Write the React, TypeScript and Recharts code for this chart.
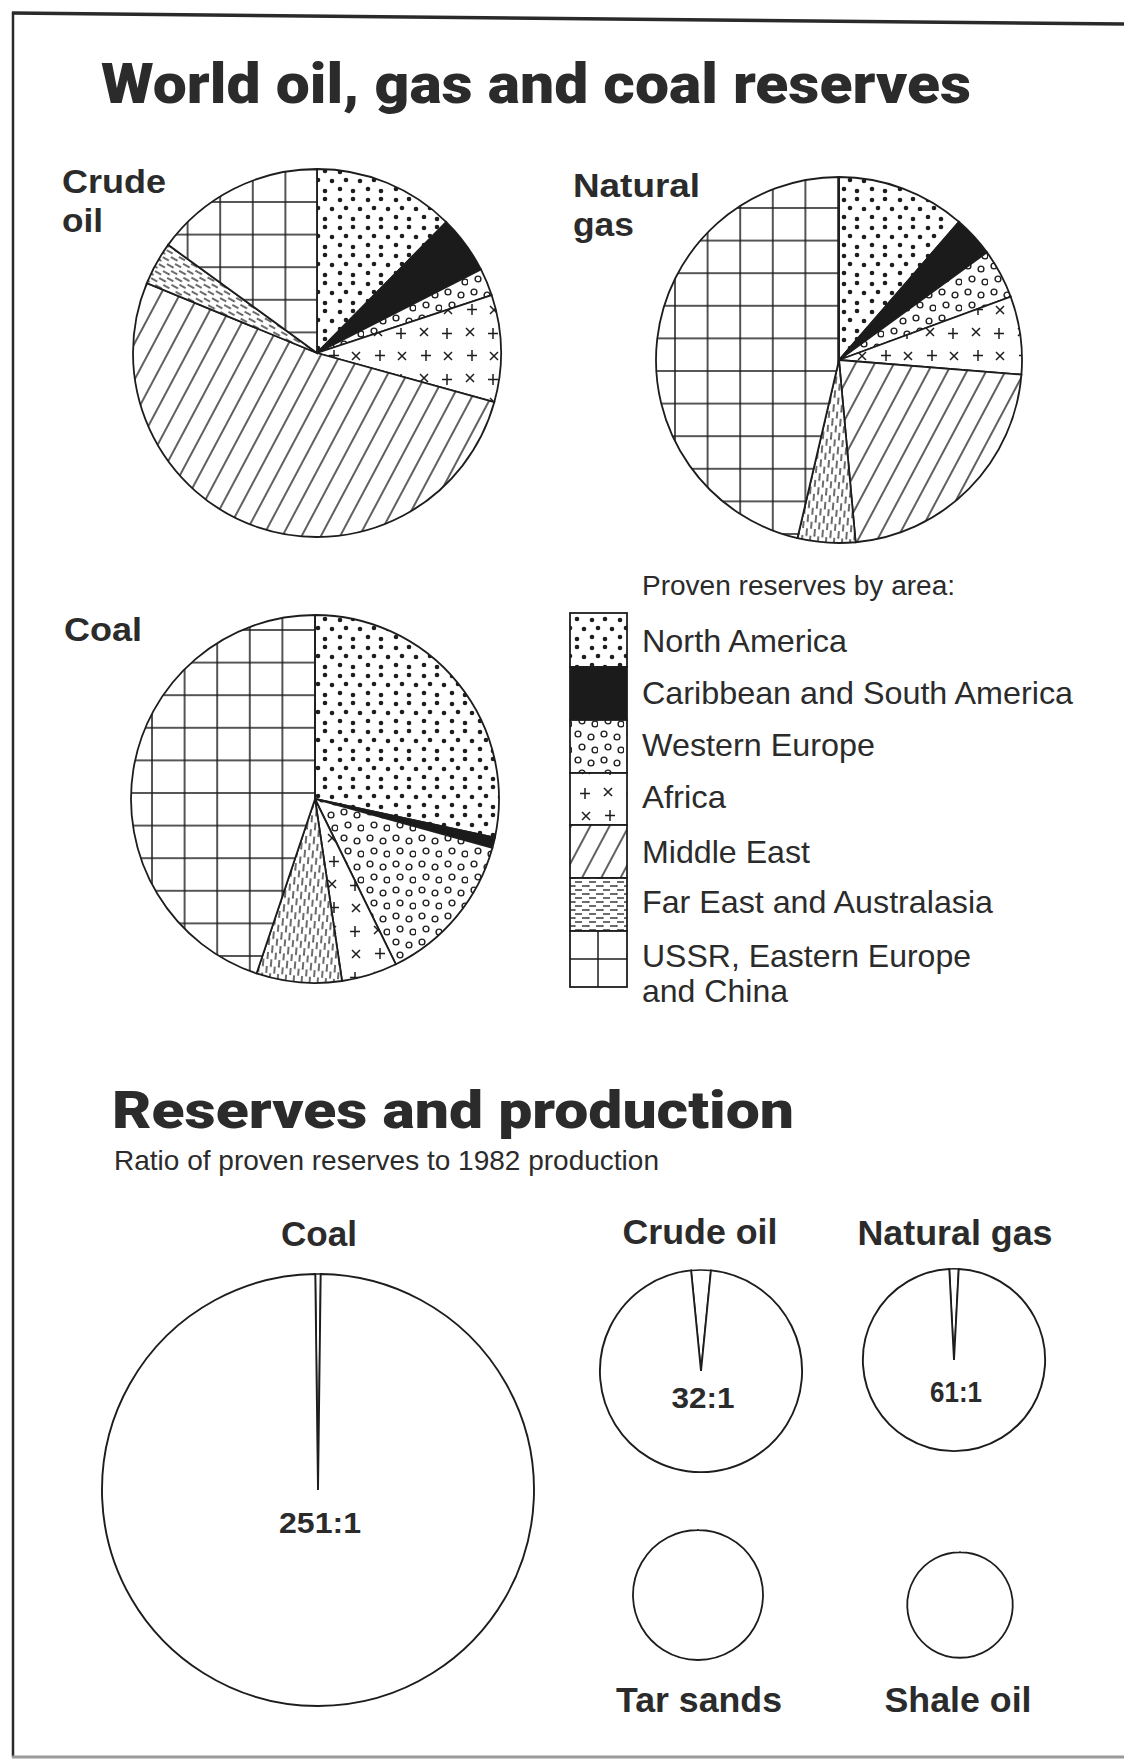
import React from 'react';
import { PieChart, Pie, Cell } from 'recharts';

// ---------- DATA ----------
const regions = [
  'North America',
  'Caribbean and South America',
  'Western Europe',
  'Africa',
  'Middle East',
  'Far East and Australasia',
  'USSR, Eastern Europe and China',
];
// share of world proven reserves, %
const crudeOilShares = [12.4, 5.1, 2.4, 9.4, 51.9, 3.8, 15.0];
const naturalGasShares = [11.4, 3.6, 4.4, 6.9, 22.3, 5.1, 46.4];
const coalShares = [28.4, 0.9, 13.5, 4.9, 0, 7.5, 44.9];

const legendLabelLines = [
  ['North America'],
  ['Caribbean and South America'],
  ['Western Europe'],
  ['Africa'],
  ['Middle East'],
  ['Far East and Australasia'],
  ['USSR, Eastern Europe', 'and China'],
];

// reserves : 1982 production
const ratioFuels = ['Coal', 'Crude oil', 'Natural gas'];
const ratioValues = [251, 32, 61];
const ratioLabels = ['251:1', '32:1', '61:1'];
const otherFuels = ['Tar sands', 'Shale oil'];
// relative size of reserves (circle area), coal = 100
const reserveFuels = ['Coal', 'Crude oil', 'Natural gas', 'Tar sands', 'Shale oil'];
const relativeReserves = [100, 21.9, 17.8, 9.1, 6.0];

// ---------- STYLE ----------
const INK = '#1d1d1d';
const TEXT = '#2b2b2b';
const HEAVY = "Roboto, 'Liberation Sans', Arial, sans-serif";
const SANS = "'Liberation Sans', Arial, Helvetica, sans-serif";
const NARROW = "'Liberation Sans Narrow', 'Liberation Sans', Arial, sans-serif";

const rowsOf = (shares: number[]) => regions.map((name, i) => ({ name, value: shares[i] }));

const topPies = [
  { title: 'Crude oil', shares: crudeOilShares, cx: 317, cy: 353, r: 184, fe: 'pFEcrude', grid: 'pGridCrude' },
  { title: 'Natural gas', shares: naturalGasShares, cx: 839, cy: 360, r: 183, fe: 'pFEv', grid: 'pGridGas' },
  { title: 'Coal', shares: coalShares, cx: 315, cy: 799, r: 184, fe: 'pFEv', grid: 'pGridCoal' },
];

const fillsFor = (fe: string, grid: string) => [
  'url(#pNA)',
  '#1b1b1b',
  'url(#pWE)',
  'url(#pAF)',
  'url(#pME)',
  `url(#${fe})`,
  `url(#${grid})`,
];

const BIG_R = 216;
const radiusOf = (fuel: string) => {
  const v = relativeReserves[reserveFuels.indexOf(fuel)];
  return BIG_R * Math.sqrt(v / relativeReserves[0]);
};

const ratioPos = [
  { cx: 318, cy: 1490, titleX: 319, titleY: 1246, labelY: 1533, labelW: 82, titleW: 76 },
  { cx: 701, cy: 1371, titleX: 700, titleY: 1244, labelY: 1408, labelW: 63, titleW: 155 },
  { cx: 954, cy: 1360, titleX: 955, titleY: 1245, labelY: 1402, labelW: 52, titleW: 195 },
];
const otherPos = [
  { cx: 698, cy: 1595, titleX: 699, titleY: 1712, titleW: 166 },
  { cx: 960, cy: 1605, titleX: 958, titleY: 1712, titleW: 147 },
];

const legendTops = [613, 667, 720, 773, 825, 878, 931, 987];
const legendBaselines = [[652], [704], [756], [808], [863], [913], [967, 1002]];
const legendWidths = [[205], [431], [233], [84], [168], [351], [329, 146]];

type TProps = {
  x: number; y: number; w?: number; size: number; weight?: number | string;
  family?: string; anchor?: 'start' | 'middle' | 'end'; fill?: string; children: React.ReactNode;
};
const T = ({ x, y, w, size, weight = 400, family = SANS, anchor = 'start', fill = TEXT, children }: TProps) => (
  <text
    x={x}
    y={y}
    fontSize={size}
    fontWeight={weight}
    fontFamily={family}
    textAnchor={anchor}
    fill={fill}
    {...(w ? { textLength: w, lengthAdjust: 'spacingAndGlyphs' } : {})}
  >
    {children}
  </text>
);

const gridPattern = (id: string, x: number, y: number) => {
  const s = 32.6;
  return (
    <pattern id={id} patternUnits="userSpaceOnUse" x={x - 1} y={y - 1} width={s} height={s}>
      <rect width={s} height={s} fill="#fff" />
      <line x1={1} y1={0} x2={1} y2={s} stroke={INK} strokeWidth={1.5} />
      <line x1={0} y1={1} x2={s} y2={1} stroke={INK} strokeWidth={1.5} />
    </pattern>
  );
};

const fePattern = (id: string, rot: number) => (
  <pattern id={id} patternUnits="userSpaceOnUse" width={14} height={8} patternTransform={`rotate(${rot})`}>
    <rect width={14} height={8} fill="#fff" />
    <line x1={1} y1={2} x2={8} y2={2} stroke={INK} strokeWidth={1.3} />
    <line x1={8} y1={6} x2={14} y2={6} stroke={INK} strokeWidth={1.3} />
    <line x1={0} y1={6} x2={1.5} y2={6} stroke={INK} strokeWidth={1.3} />
  </pattern>
);

const Defs = () => (
  <defs>
    <pattern id="pNA" patternUnits="userSpaceOnUse" width={28} height={28}>
      <rect width={28} height={28} fill="#fff" />
      {[[4, 4], [17, 3], [10, 12], [24, 13], [4, 21], [17, 23]].map(([x, y], i) => (
        <circle key={i} cx={x} cy={y} r={2.3} fill={INK} />
      ))}
    </pattern>
    <pattern id="pWE" patternUnits="userSpaceOnUse" width={26} height={26}>
      <rect width={26} height={26} fill="#fff" />
      {[[6, 6], [19, 9], [10, 19], [23, 22]].map(([x, y], i) => (
        <circle key={i} cx={x} cy={y} r={2.9} fill="none" stroke={INK} strokeWidth={1.4} />
      ))}
    </pattern>
    <pattern id="pAF" patternUnits="userSpaceOnUse" width={46} height={46}>
      <rect width={46} height={46} fill="#fff" />
      <path d="M6,6 L14,14 M14,6 L6,14" stroke={INK} strokeWidth={1.5} />
      <path d="M33,6 L33,17 M28,11.5 L38,11.5" stroke={INK} strokeWidth={1.5} />
      <path d="M12,28 L12,39 M7,33.5 L17,33.5" stroke={INK} strokeWidth={1.5} />
      <path d="M30,30 L38,38 M38,30 L30,38" stroke={INK} strokeWidth={1.5} />
    </pattern>
    <pattern id="pME" patternUnits="userSpaceOnUse" width={17} height={17} patternTransform="rotate(28)">
      <rect width={17} height={17} fill="#fff" />
      <line x1={8} y1={0} x2={8} y2={17} stroke={INK} strokeWidth={1.4} />
    </pattern>
    {fePattern('pFEh', 0)}
    {fePattern('pFEcrude', 29)}
    {fePattern('pFEv', 95)}
    {gridPattern('pGridCrude', 318, 202)}
    {gridPattern('pGridGas', 838, 208)}
    {gridPattern('pGridCoal', 315, 630)}
  </defs>
);

export default function App() {
  return (
    <div style={{ position: 'absolute', left: 0, top: 0, width: 1124, height: 1761, background: '#fff' }}>
      <div style={{ position: 'absolute', left: 0, top: 0 }}>
        <PieChart width={1124} height={1761} margin={{ top: 0, right: 0, bottom: 0, left: 0 }}>
          {topPies.map((p) => (
            <Pie
              key={p.title}
              data={rowsOf(p.shares)}
              dataKey="value"
              nameKey="name"
              cx={p.cx}
              cy={p.cy}
              outerRadius={p.r}
              startAngle={90}
              endAngle={-270}
              isAnimationActive={false}
              stroke={INK}
              strokeWidth={1.8}
            >
              {fillsFor(p.fe, p.grid).map((f, i) => (
                <Cell key={i} fill={f} stroke={INK} strokeWidth={1.8} />
              ))}
            </Pie>
          ))}
          {ratioFuels.map((fuel, i) => {
            const ratio = ratioValues[i];
            const start = 90 + 180 / ratio;
            return (
              <Pie
                key={fuel}
                data={[
                  { name: '1982 production', value: 1 },
                  { name: 'Remaining reserves', value: ratio - 1 },
                ]}
                dataKey="value"
                nameKey="name"
                cx={ratioPos[i].cx}
                cy={ratioPos[i].cy}
                outerRadius={radiusOf(fuel)}
                startAngle={start}
                endAngle={start - 360}
                isAnimationActive={false}
                stroke={INK}
                strokeWidth={1.8}
              >
                <Cell fill="#fff" stroke={INK} strokeWidth={1.5} />
                <Cell fill="#fff" stroke={INK} strokeWidth={1.9} />
              </Pie>
            );
          })}
          {otherFuels.map((fuel, i) => {
            const r = radiusOf(fuel);
            return (
              <Pie
                key={fuel}
                data={[{ name: fuel, value: 1 }]}
                dataKey="value"
                nameKey="name"
                cx={otherPos[i].cx}
                cy={otherPos[i].cy}
                innerRadius={r - 0.3}
                outerRadius={r}
                startAngle={90}
                endAngle={-270}
                isAnimationActive={false}
                stroke={INK}
                strokeWidth={1.5}
              >
                <Cell fill="#fff" stroke={INK} strokeWidth={1.5} />
              </Pie>
            );
          })}
        </PieChart>
      </div>
      <svg
        width={1124}
        height={1761}
        style={{ position: 'absolute', left: 0, top: 0, pointerEvents: 'none' }}
      >
        <Defs />
        {/* frame */}
        <line x1={12} y1={13} x2={1124} y2={24} stroke="#2a2a2a" strokeWidth={3.5} />
        <line x1={13} y1={12} x2={13} y2={1757} stroke="#2a2a2a" strokeWidth={2.5} />
        <line x1={12} y1={1757} x2={1124} y2={1757} stroke="#9a9a9a" strokeWidth={3} />

        {/* main title */}
        <T x={101} y={103} w={870} size={56} weight={900} family={HEAVY}>
          World oil, gas and coal reserves
        </T>

        {/* pie titles */}
        <T x={62} y={193} w={104} size={34} weight={700}>Crude</T>
        <T x={62} y={232} w={41} size={34} weight={700}>oil</T>
        <T x={573} y={197} w={127} size={34} weight={700}>Natural</T>
        <T x={573} y={236} w={61} size={34} weight={700}>gas</T>
        <T x={64} y={641} w={78} size={34} weight={700}>Coal</T>

        {/* legend */}
        <T x={642} y={595} w={313} size={27}>Proven reserves by area:</T>
        {regions.map((name, i) => {
          const top = legendTops[i];
          const h = legendTops[i + 1] - top;
          const fill = i === 5 ? 'url(#pFEh)' : fillsFor('pFEh', 'pGridCrude')[i];
          return (
            <g key={name}>
              {i === 6 ? (
                <g>
                  <rect x={570} y={top} width={57} height={h} fill="#fff" stroke={INK} strokeWidth={1.8} />
                  <line x1={598} y1={top} x2={598} y2={top + h} stroke={INK} strokeWidth={1.5} />
                  <line x1={570} y1={top + h / 2} x2={627} y2={top + h / 2} stroke={INK} strokeWidth={1.5} />
                </g>
              ) : (
                <rect x={570} y={top} width={57} height={h} fill={fill} stroke={INK} strokeWidth={1.8} />
              )}
              {legendLabelLines[i].map((line, j) => (
                <T key={j} x={642} y={legendBaselines[i][j]} w={legendWidths[i][j]} size={32}>
                  {line}
                </T>
              ))}
            </g>
          );
        })}

        {/* second section */}
        <T x={112} y={1128} w={682} size={52} weight={900} family={HEAVY}>
          Reserves and production
        </T>
        <T x={114} y={1170} w={545} size={28}>
          Ratio of proven reserves to 1982 production
        </T>
        {ratioFuels.map((fuel, i) => (
          <g key={fuel}>
            <T x={ratioPos[i].titleX} y={ratioPos[i].titleY} w={ratioPos[i].titleW} size={35} weight={700} anchor="middle">
              {fuel}
            </T>
            <T
              x={ratioPos[i].cx + 2}
              y={ratioPos[i].labelY}
              w={ratioPos[i].labelW}
              size={29}
              weight={700}
              family={NARROW}
              anchor="middle"
            >
              {ratioLabels[i]}
            </T>
          </g>
        ))}
        {otherFuels.map((fuel, i) => (
          <T key={fuel} x={otherPos[i].titleX} y={otherPos[i].titleY} w={otherPos[i].titleW} size={35} weight={700} anchor="middle">
            {fuel}
          </T>
        ))}
      </svg>
    </div>
  );
}
